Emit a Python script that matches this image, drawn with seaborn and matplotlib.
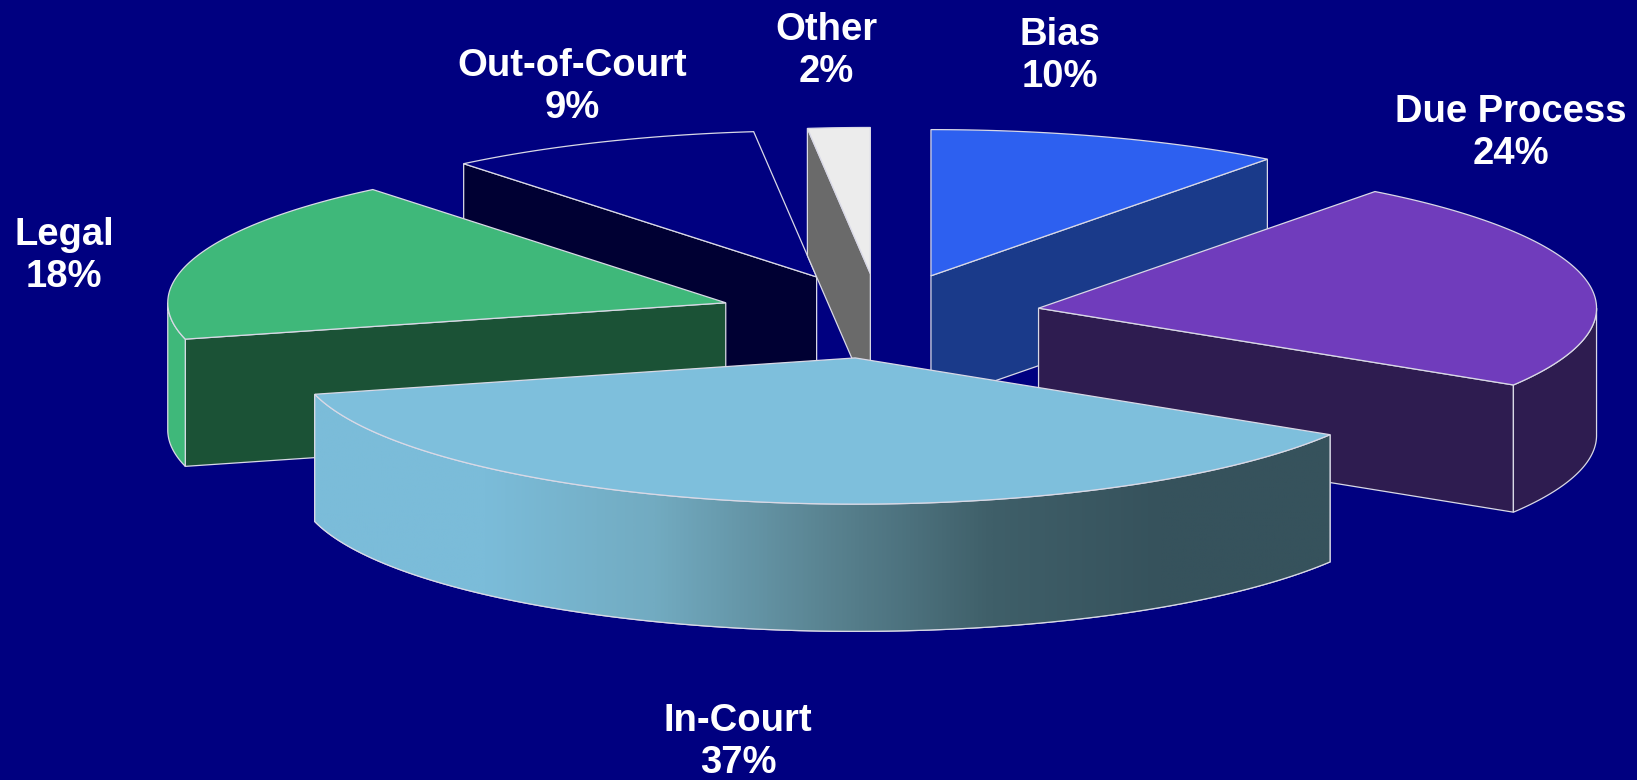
import numpy as np
import matplotlib
matplotlib.use("Agg")
import matplotlib.pyplot as plt
from matplotlib.patches import Polygon
import seaborn as sns

# clockwise from 12 o'clock
labels = ["Bias", "Due Process", "In-Court", "Legal", "Out-of-Court", "Other"]
printed_pct = [10, 24, 37, 18, 9, 2]
# shares as measured from the slice angles, the printed figures are rounded
shares = [10.3, 23.5, 37.2, 18.1, 9.1, 1.8]

top_colors = ["#2D60F0", "#703CBC", "#7EBFDC", "#3FB87A", "#000080", "#ECECEC"]
side_colors = ["#1A3A8A", "#2E1C50", "#7EBFDC", "#1B5236", "#000033", "#6A6A6A"]
wall_colors = ["#1A3A8A", "#2E1C50", "#7EBFDC", "#3FB87A", "#000033", "#6A6A6A"]
gradient_colors = ["#7BBCD9", "#7BBCD9", "#72ABC1", "#5A8492", "#3F5F69", "#36525C", "#36525C"]

# label centres, in reference pixels
label_x = [1060, 1511, 738, 64, 572, 826]
label_y = [56, 133, 742, 256, 87, 51]

BG = "#000080"
EDGE = "#D9D9E6"
EXPLODE = 0.29
TILT = 0.262
DEPTH = 0.228
CX, CY, RX = 879.5, 316, 558
W, H = 1637, 780

sns.set_theme(style="dark", rc={"figure.facecolor": BG, "axes.facecolor": BG})
plt.rcParams["font.family"] = ["Liberation Sans", "DejaVu Sans"]


def arc(a0, a1, n=120):
    t = np.radians(np.linspace(a0, a1, n))
    return np.cos(t), TILT * np.sin(t)


def draw_face(ax, ox, oy, angle, color):
    ex, ey = np.cos(np.radians(angle)), TILT * np.sin(np.radians(angle))
    pts = [(ox, oy), (ox + ex, oy + ey), (ox + ex, oy + ey - DEPTH), (ox, oy - DEPTH)]
    ax.add_patch(Polygon(pts, closed=True, fc=color, ec=EDGE, lw=0.9, zorder=ax.z))
    ax.z += 1


def draw_slice(ax, a0, a1, top, side, wall, gradient=None):
    # a0 > a1, going clockwise
    mid = np.radians((a0 + a1) / 2)
    ox, oy = EXPLODE * np.cos(mid), EXPLODE * TILT * np.sin(mid)

    # cut faces, only the ones that look towards the viewer
    if np.sin(np.radians(a0 + 90)) < -1e-6:
        draw_face(ax, ox, oy, a0, side)
    if np.sin(np.radians(a1 - 90)) < -1e-6:
        draw_face(ax, ox, oy, a1, side)

    # outer wall, the part below the horizontal
    lo, hi = max(a1, -180), min(a0, 0)
    if hi > lo:
        x, y = arc(hi, lo)
        xs = np.r_[x, x[::-1]] + ox
        ys = np.r_[y, y[::-1] - DEPTH] + oy
        wall_patch = Polygon(np.c_[xs, ys], closed=True, fc=wall, ec=EDGE, lw=0.9, zorder=ax.z)
        ax.add_patch(wall_patch)
        if gradient is not None:
            cmap = sns.blend_palette(gradient, as_cmap=True)
            img = ax.imshow(np.linspace(0, 1, 512)[None, :], cmap=cmap, aspect="auto",
                            extent=(xs.min(), xs.max(), ys.min(), ys.max()), zorder=ax.z + 0.5)
            img.set_clip_path(wall_patch)
            ax.add_patch(Polygon(np.c_[xs, ys], closed=True, fc="none", ec=EDGE, lw=0.9, zorder=ax.z + 0.6))
        ax.z += 1

    x, y = arc(a0, a1)
    pts = np.c_[np.r_[0, x] + ox, np.r_[0, y] + oy]
    ax.add_patch(Polygon(pts, closed=True, fc=top, ec=EDGE, lw=0.9, zorder=ax.z))
    ax.z += 1


fig = plt.figure(figsize=(W / 100, H / 100), dpi=100, facecolor=BG)
ax = fig.add_axes([0, 0, 1, 1])
ax.z = 2

angles = 90 - np.cumsum([0] + shares) * 3.6
slices = {}
for i, name in enumerate(labels):
    slices[name] = (angles[i], angles[i + 1], top_colors[i], side_colors[i], wall_colors[i])

# back to front
for name in ["Out-of-Court", "Other", "Bias", "Legal", "Due Process", "In-Court"]:
    a0, a1, top, side, wall = slices[name]
    draw_slice(ax, a0, a1, top, side, wall, gradient_colors if name == "In-Court" else None)

ax.set_xlim(-CX / RX, (W - CX) / RX)
ax.set_ylim(-(H - CY) / RX, CY / RX)
ax.axis("off")

for name, val, lx, ly in zip(labels, printed_pct, label_x, label_y):
    fig.text(lx / W, 1 - ly / H, f"{name}\n{val}%", color="white", fontsize=27.5, fontweight="bold",
             ha="center", va="center", linespacing=1.24)

fig.savefig("out.png", dpi=100, facecolor=BG)
